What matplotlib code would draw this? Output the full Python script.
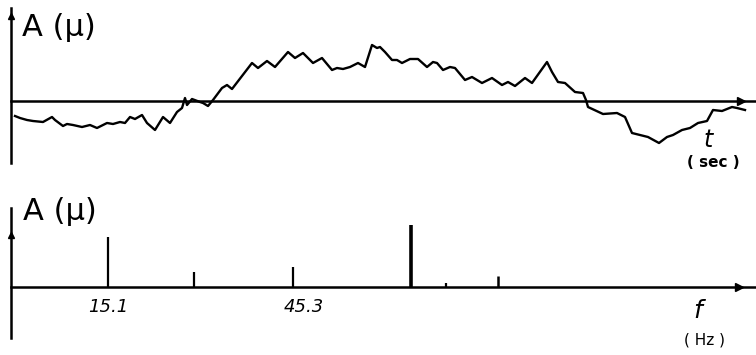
import matplotlib
matplotlib.use("Agg")
import matplotlib.pyplot as plt

# ---- data ----
# top panel: time signal (time in arbitrary units, amplitude in arbitrary units)
t = [4, 9, 16, 22, 32, 41, 44, 52, 56, 62, 71, 79, 86, 96, 102, 109, 114, 119, 124, 131,
     136, 144, 152, 159, 166, 171, 174, 176, 181, 189, 192, 197, 202, 211, 216, 221, 241, 247, 256, 264,
     277, 284, 292, 302, 311, 321, 326, 332, 339, 347, 354, 361, 366, 369, 374, 381, 386, 391, 399, 407,
     416, 422, 426, 432, 439, 444, 454, 461, 471, 481, 491, 497, 504, 514, 521, 536, 541, 547, 554, 564,
     572, 575, 577, 592, 606, 614, 621, 637, 648, 656, 662, 671, 679, 687, 696, 702, 711, 721, 726, 734]
amp = [-15, -17, -19, -20, -21, -16, -19, -25, -23, -24, -26, -24, -27, -22, -23, -21, -22, -16, -18, -14,
       -22, -29, -16, -22, -11, -7, 3, -4, 2, -1, -2, -5, 1, 13, 16, 12, 38, 33, 40, 34,
       49, 43, 48, 38, 43, 31, 33, 32, 34, 38, 34, 56, 53, 54, 49, 41, 41, 38, 42, 42,
       34, 39, 38, 31, 34, 33, 21, 24, 18, 23, 16, 19, 15, 23, 18, 39, 29, 19, 18, 9,
       8, 1, -6, -13, -12, -16, -32, -36, -42, -36, -34, -29, -27, -22, -20, -9, -10, -6, -7, -9]

# bottom panel: spectrum lines
freqs = [15.1, 29.2, 45.3, 64.6, 70.3, 78.8]
spec_amp = [50, 15, 20, 62, 4, 11]
spec_lw = [1.6, 1.6, 1.6, 2.6, 1.6, 1.8]
freq_labels = ["15.1", "45.3"]
freq_label_pos = [15.1, 47.0]

W, H = 756, 355
fig = plt.figure(figsize=(W / 100, H / 100), dpi=100)
fig.patch.set_facecolor("white")


def px_axes(x0, y0, x1, y1):
    return fig.add_axes([x0 / W, 1 - y1 / H, (x1 - x0) / W, (y1 - y0) / H])


def style(ax):
    for s in ["top", "right"]:
        ax.spines[s].set_visible(False)
    ax.spines["left"].set_linewidth(1.8)
    ax.spines["bottom"].set_linewidth(1.8)
    ax.spines["bottom"].set_position(("data", 0))
    ax.set_xticks([])
    ax.set_yticks([])
    ax.patch.set_alpha(0)


# ---- top panel ----
ax1 = px_axes(11, 8, 756, 163)
ax1.set_xlim(0, 745)
ax1.set_ylim(-62, 93)
style(ax1)
ax1.plot(t, amp, color="black", lw=1.7)
ax1.plot(730, 0, ">", color="black", ms=6, clip_on=False)
ax1.plot(0, 0.95, "^", color="black", ms=5, transform=ax1.transAxes, clip_on=False)

# ---- bottom panel ----
ax2 = px_axes(11, 208, 756, 338)
ax2.set_xlim(-0.73, 120.9)
ax2.set_ylim(-51, 79)
style(ax2)
ax2.vlines(freqs, 0, spec_amp, colors="black", linewidth=spec_lw)
ax2.plot(118.1, 0, ">", color="black", ms=6, clip_on=False)
ax2.plot(0, 0.79, "^", color="black", ms=5, transform=ax2.transAxes, clip_on=False)
for lab, pos in zip(freq_labels, freq_label_pos):
    ax2.text(pos, -20, lab, ha="center", va="center", fontsize=13, style="italic")


def ftext(x, y, s, **kw):
    fig.text(x / W, 1 - y / H, s, **kw)


ftext(22, 27, "A (μ)", fontsize=22, va="center", ha="left")
ftext(23, 212, "A (μ)", fontsize=22, va="center", ha="left")
ftext(708, 140, "t", fontsize=17, va="center", ha="center", style="italic")
ftext(713, 162, "( sec )", fontsize=11, va="center", ha="center", fontweight="bold")
ftext(698, 311, "f", fontsize=18, va="center", ha="center", style="italic")
ftext(704, 340, "( Hz )", fontsize=11, va="center", ha="center")

fig.savefig("out.png", dpi=100)
